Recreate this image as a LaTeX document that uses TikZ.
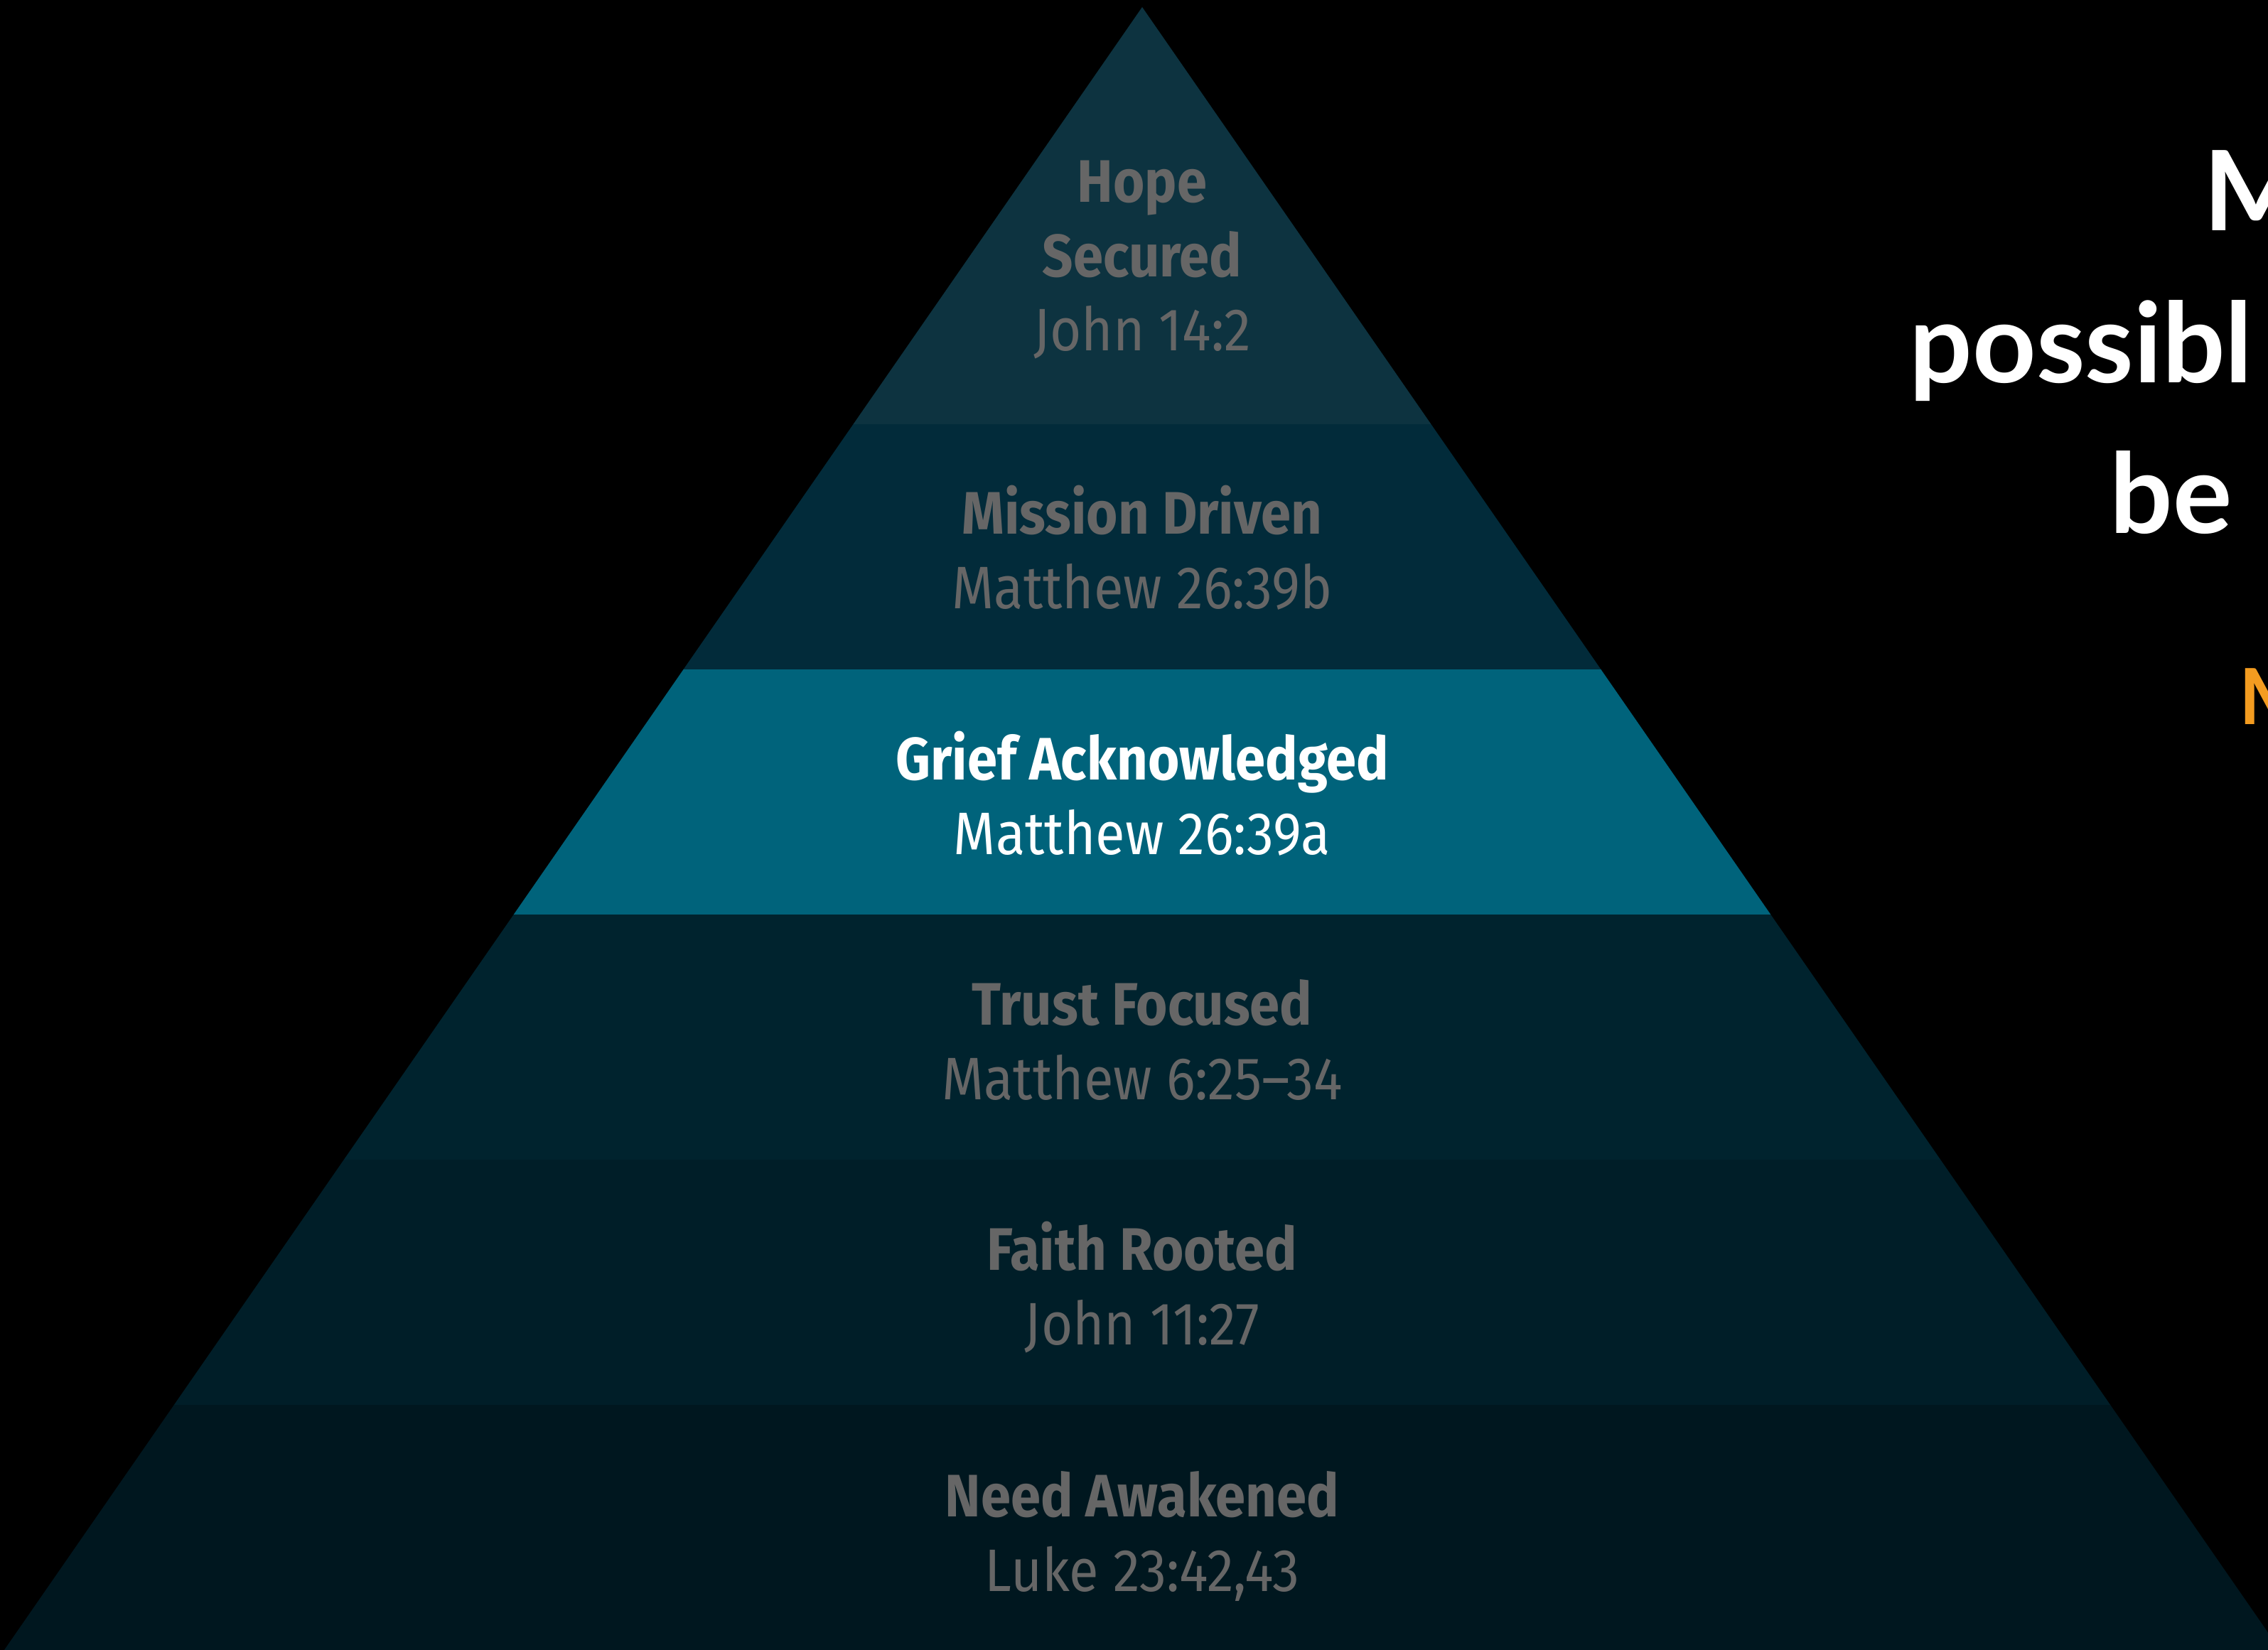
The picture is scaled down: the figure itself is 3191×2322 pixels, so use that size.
\documentclass[tikz,border=0pt]{standalone}
\usepackage{fontspec}
\newfontfamily\lblfont[FakeStretch=0.9]{Fira Sans}
\newfontfamily\sidefont{Lato}
\definecolor{bgblack}{HTML}{000000}
\definecolor{bandA}{HTML}{0D3340}
\definecolor{bandB}{HTML}{022B3A}
\definecolor{bandC}{HTML}{00637B}
\definecolor{bandD}{HTML}{00232E}
\definecolor{bandE}{HTML}{001E28}
\definecolor{bandF}{HTML}{00171F}
\definecolor{lblgray}{HTML}{666666}
\definecolor{accent}{HTML}{F39C20}
\tikzset{
  ttl/.style={anchor=base, inner sep=0pt, text=lblgray, font=\lblfont\bfseries\fontsize{24pt}{29pt}\selectfont},
  ref/.style={anchor=base, inner sep=0pt, text=lblgray, font=\lblfont\fontsize{24pt}{29pt}\selectfont},
  hi/.style={text=white},
  side/.style={anchor=base west, inner sep=0pt, text=white, font=\sidefont\bfseries\fontsize{44.4pt}{60pt}\selectfont},
}
\begin{document}
\begin{tikzpicture}[x=0.01cm, y=-0.01cm]
\clip (0,0) rectangle (3191,2322);
\fill[bgblack] (0,0) rectangle (3191,2322);
\begin{scope}
\clip (1607,10) -- (6,2322) -- (3208,2322) -- cycle;
\fill[bandA] (0,0) rectangle (3300,597);
\fill[bandB] (0,597) rectangle (3300,942);
\fill[bandC] (0,942) rectangle (3300,1287);
\fill[bandD] (0,1287) rectangle (3300,1632);
\fill[bandE] (0,1632) rectangle (3300,1977);
\fill[bandF] (0,1977) rectangle (3300,2330);
\end{scope}
% labels
\node[ttl] (t1a) at (1607,285) {Hope};
\node[ttl] (t1b) at (1607,390) {Secured};
\node[ref] (t1c) at (1607,494) {John 14:2};
\node[ttl] (t2a) at (1607,752) {Mission Driven};
\node[ref] (t2b) at (1607,857) {Matthew 26:39b};
\node[ttl,hi] (t3a) at (1607,1097) {Grief Acknowledged};
\node[ref,hi] (t3b) at (1607,1202) {Matthew 26:39a};
\node[ttl] (t4a) at (1607,1442) {Trust Focused};
\node[ref] (t4b) at (1607,1547) {Matthew 6:25–34};
\node[ttl] (t5a) at (1607,1787) {Faith Rooted};
\node[ref] (t5b) at (1607,1892) {John 11:27};
\node[ttl] (t6a) at (1607,2134) {Need Awakened};
\node[ref] (t6b) at (1607,2239) {Luke 23:42,43};
% side text (cut off at the right edge, as in the reference)
\node[side] (s1) at (3100,325) {M};
\node[side] (s2) at (2686,539) {possibl};
\node[side] (s3) at (2968,751) {be};
\node[side, text=accent, font=\sidefont\bfseries\fontsize{31pt}{40pt}\selectfont] (s4) at (3150,1019) {M};
\end{tikzpicture}
\end{document}
